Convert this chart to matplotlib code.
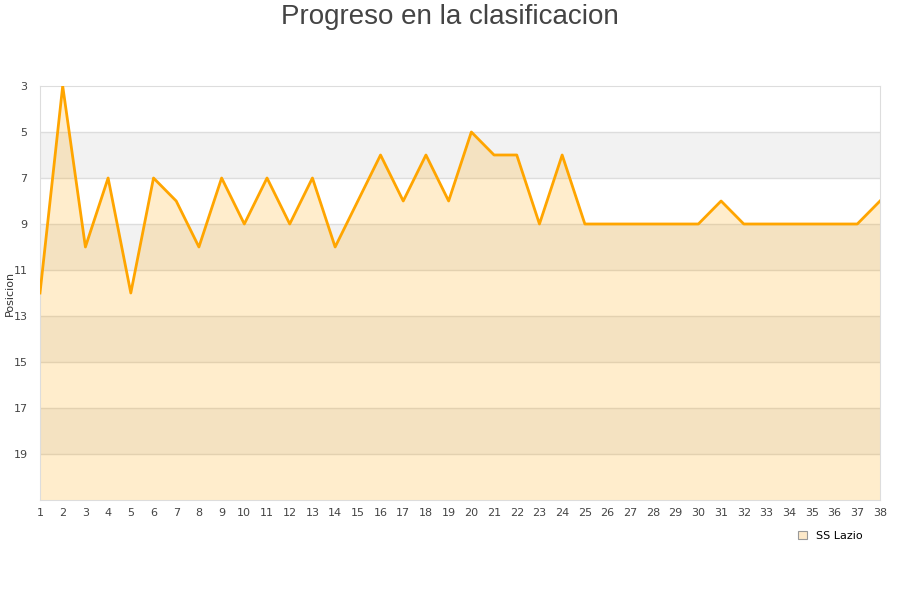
import matplotlib
matplotlib.use("Agg")
import matplotlib.pyplot as plt

# matchday and league position
jornadas = list(range(1, 39))
posiciones = [12, 3, 10, 7, 12, 7, 8, 10, 7, 9, 7, 9, 7, 10, 8, 6, 8, 6, 8, 5,
              6, 6, 9, 6, 9, 9, 9, 9, 9, 9, 8, 9, 9, 9, 9, 9, 9, 8]
y_ticks = [3, 5, 7, 9, 11, 13, 15, 17, 19]
equipo = "SS Lazio"

fig = plt.figure(figsize=(9, 6), dpi=100)
ax = fig.add_axes([40 / 900, 100 / 600, 840 / 900, 414 / 600])

# alternating bands
for i, t in enumerate(range(3, 21, 2)):
    if i % 2 == 1:
        ax.axhspan(t, t + 2, color="#f2f2f2", zorder=0, lw=0)
for t in y_ticks[1:]:
    ax.axhline(t, color="#dddddd", lw=1, zorder=1)

ax.fill_between(jornadas, posiciones, 21, color="#FFA500", alpha=0.2, lw=0, zorder=2)
ax.plot(jornadas, posiciones, color="#FFA500", lw=2, zorder=3, label=equipo)

ax.set_xlim(1, 38)
ax.set_ylim(21, 3)
ax.set_xticks(jornadas)
ax.set_yticks(y_ticks)
ax.tick_params(length=0, labelsize=8, colors="#444444", pad=6)
ax.tick_params(axis="y", pad=9)
for s in ["top", "right", "left", "bottom"]:
    ax.spines[s].set_color("#dddddd")
ax.set_ylabel("Posicion", fontsize=8, color="#333333")
ax.yaxis.set_label_coords(-25 / 840, 0.5)

fig.suptitle("Progreso en la clasificacion", fontsize=20, color="#444444",
             family="Liberation Sans", y=0.993)

h = plt.Rectangle((0, 0), 1, 1, facecolor="#fde9c9", edgecolor="#999999", lw=0.8)
fig.legend([h], [equipo], loc="center", bbox_to_anchor=(830 / 900, 1 - 536 / 600),
           frameon=False, fontsize=8, handlelength=0.8, handleheight=0.8, handletextpad=0.8)

fig.savefig("out.png", dpi=100)
